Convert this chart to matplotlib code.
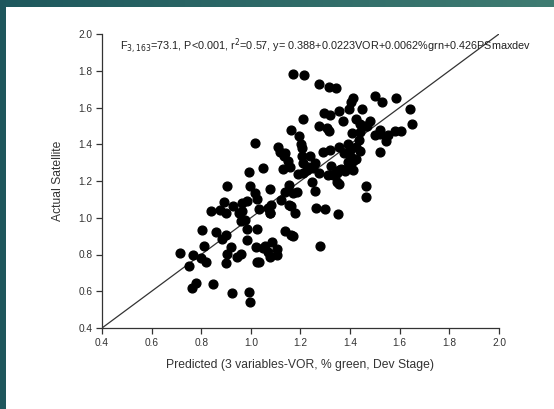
import numpy as np
import matplotlib
matplotlib.use('Agg')
import matplotlib.pyplot as plt

plt.rcParams['font.family'] = ['Liberation Sans', 'DejaVu Sans']

## -- data
predicted = [1.171, 1.214, 1.275, 1.313, 1.343, 1.500, 1.527, 1.585, 1.640, 1.648,
             1.411, 1.402, 1.396, 1.446, 1.356, 1.296, 1.317, 1.211, 1.372, 1.423,
             1.480, 1.438, 1.459, 1.500, 1.519, 1.520, 1.552, 1.545, 1.579, 1.604,
             1.519, 1.409, 1.435, 1.275, 1.306, 1.313, 1.162, 1.192, 1.204, 1.017,
             1.111, 1.118, 1.137, 1.207, 1.207, 1.239, 1.211, 1.232, 1.260, 1.150,
             1.157, 1.128, 1.290, 1.317, 1.356, 1.390, 1.400, 1.423, 1.441, 1.374,
             1.402, 1.423, 1.390, 1.410, 1.396, 1.324, 1.332, 1.310, 1.356, 1.374,
             1.346, 1.356, 1.381, 1.047, 0.993, 0.905, 0.997, 1.016, 1.023, 1.078,
             1.083, 1.078, 1.033, 0.983, 0.966, 0.926, 0.891, 0.898, 0.877, 0.838,
             0.952, 0.966, 0.962, 0.976, 0.983, 1.023, 0.983, 0.803, 0.858, 0.885,
             0.898, 0.810, 0.919, 0.905, 0.945, 0.962, 0.898, 0.801, 0.819, 0.767,
             0.716, 0.749, 0.763, 0.780, 0.848, 0.923, 0.993, 0.997, 1.022, 1.023,
             1.033, 1.047, 1.057, 1.071, 1.076, 1.086, 1.104, 1.104, 1.137, 1.161,
             1.168, 1.121, 1.137, 1.154, 1.171, 1.185, 1.154, 1.161, 1.178, 1.189,
             1.211, 1.245, 1.260, 1.261, 1.300, 1.353, 1.279, 1.462, 1.464, 1.225,
             1.275, 1.410, 1.439, 1.468, 1.363, 1.135, 1.249, 1.349, 1.071, 1.078]
actual = [1.780, 1.776, 1.730, 1.712, 1.708, 1.665, 1.629, 1.651, 1.590, 1.511,
          1.654, 1.629, 1.590, 1.590, 1.583, 1.568, 1.561, 1.538, 1.525, 1.538,
          1.524, 1.508, 1.497, 1.452, 1.475, 1.457, 1.450, 1.418, 1.472, 1.470,
          1.359, 1.461, 1.422, 1.497, 1.490, 1.472, 1.475, 1.443, 1.400, 1.407,
          1.386, 1.359, 1.353, 1.382, 1.335, 1.335, 1.296, 1.278, 1.300, 1.307,
          1.278, 1.264, 1.359, 1.368, 1.386, 1.404, 1.371, 1.386, 1.362, 1.350,
          1.332, 1.318, 1.303, 1.307, 1.278, 1.284, 1.233, 1.233, 1.260, 1.260,
          1.197, 1.185, 1.256, 1.269, 1.251, 1.174, 1.171, 1.135, 1.104, 1.156,
          1.072, 1.027, 1.045, 1.090, 1.081, 1.063, 1.086, 1.027, 1.042, 1.036,
          1.027, 1.036, 0.982, 0.988, 0.938, 0.941, 0.880, 0.934, 0.923, 0.884,
          0.905, 0.848, 0.839, 0.801, 0.789, 0.803, 0.755, 0.780, 0.758, 0.798,
          0.809, 0.735, 0.615, 0.647, 0.638, 0.588, 0.594, 0.543, 0.839, 0.758,
          0.758, 0.834, 0.844, 0.816, 0.785, 0.866, 0.830, 0.798, 0.929, 0.905,
          0.902, 1.095, 1.138, 1.180, 1.135, 1.138, 1.067, 1.063, 1.024, 1.239,
          1.246, 1.197, 1.147, 1.054, 1.049, 1.022, 0.848, 1.174, 1.111, 1.260,
          1.242, 1.260, 1.466, 1.502, 1.264, 1.335, 1.273, 1.242, 1.054, 1.027]

line_x = [0.4, 2.0]
line_y = [0.4, 2.0]
ticks = [0.4, 0.6, 0.8, 1.0, 1.2, 1.4, 1.6, 1.8, 2.0]

title_text = ("F$_{3,163}$=73.1, P<0.001, r$^2$=0.57, "
              "y= 0.388+0.0223VOR+0.0062%grn+0.426PSmaxdev")

fig = plt.figure(figsize=(5.54, 4.09), dpi=100)
fig.patch.set_facecolor('white')

## teal frame strips (top and left)
top = fig.add_axes([0, 1 - 7 / 409., 1, 7 / 409.])
top.imshow(np.linspace(0, 1, 256).reshape(1, -1), aspect='auto',
           cmap=matplotlib.colors.LinearSegmentedColormap.from_list('t', ['#1e585d', '#3f7c72']))
top.axis('off')
left = fig.add_axes([0, 0, 6 / 554., 1])
left.set_facecolor('#1e565c')
left.set_xticks([])
left.set_yticks([])
for s in left.spines.values():
    s.set_visible(False)

ax = fig.add_axes([102 / 554., 1 - 328 / 409., 397 / 554., 294 / 409.])
ax.scatter(predicted, actual, s=40, color='black', zorder=3)
ax.plot(line_x, line_y, color='#333333', linewidth=0.9, zorder=2)

ax.set_xlim(0.4, 2.0)
ax.set_ylim(0.4, 2.0)
ax.set_xticks(ticks)
ax.set_yticks(ticks)
ax.set_xticklabels(['%.1f' % t for t in ticks])
ax.set_yticklabels(['%.1f' % t for t in ticks])
ax.tick_params(direction='out', length=4, width=0.9, labelsize=7.3,
               colors='#333333', pad=3)
for side in ['top', 'right']:
    ax.spines[side].set_visible(False)
for side in ['left', 'bottom']:
    ax.spines[side].set_color('#333333')
    ax.spines[side].set_linewidth(0.9)

ax.set_xlabel('Predicted (3 variables-VOR, % green, Dev Stage)', fontsize=8.7,
              color='#333333', labelpad=8)
ax.set_ylabel('Actual Satellite', fontsize=8.7, color='#333333', labelpad=10)
ax.text(0.473, 1.935, title_text, fontsize=7.8, color='#222222', va='center')

plt.savefig('out.png', dpi=100)
